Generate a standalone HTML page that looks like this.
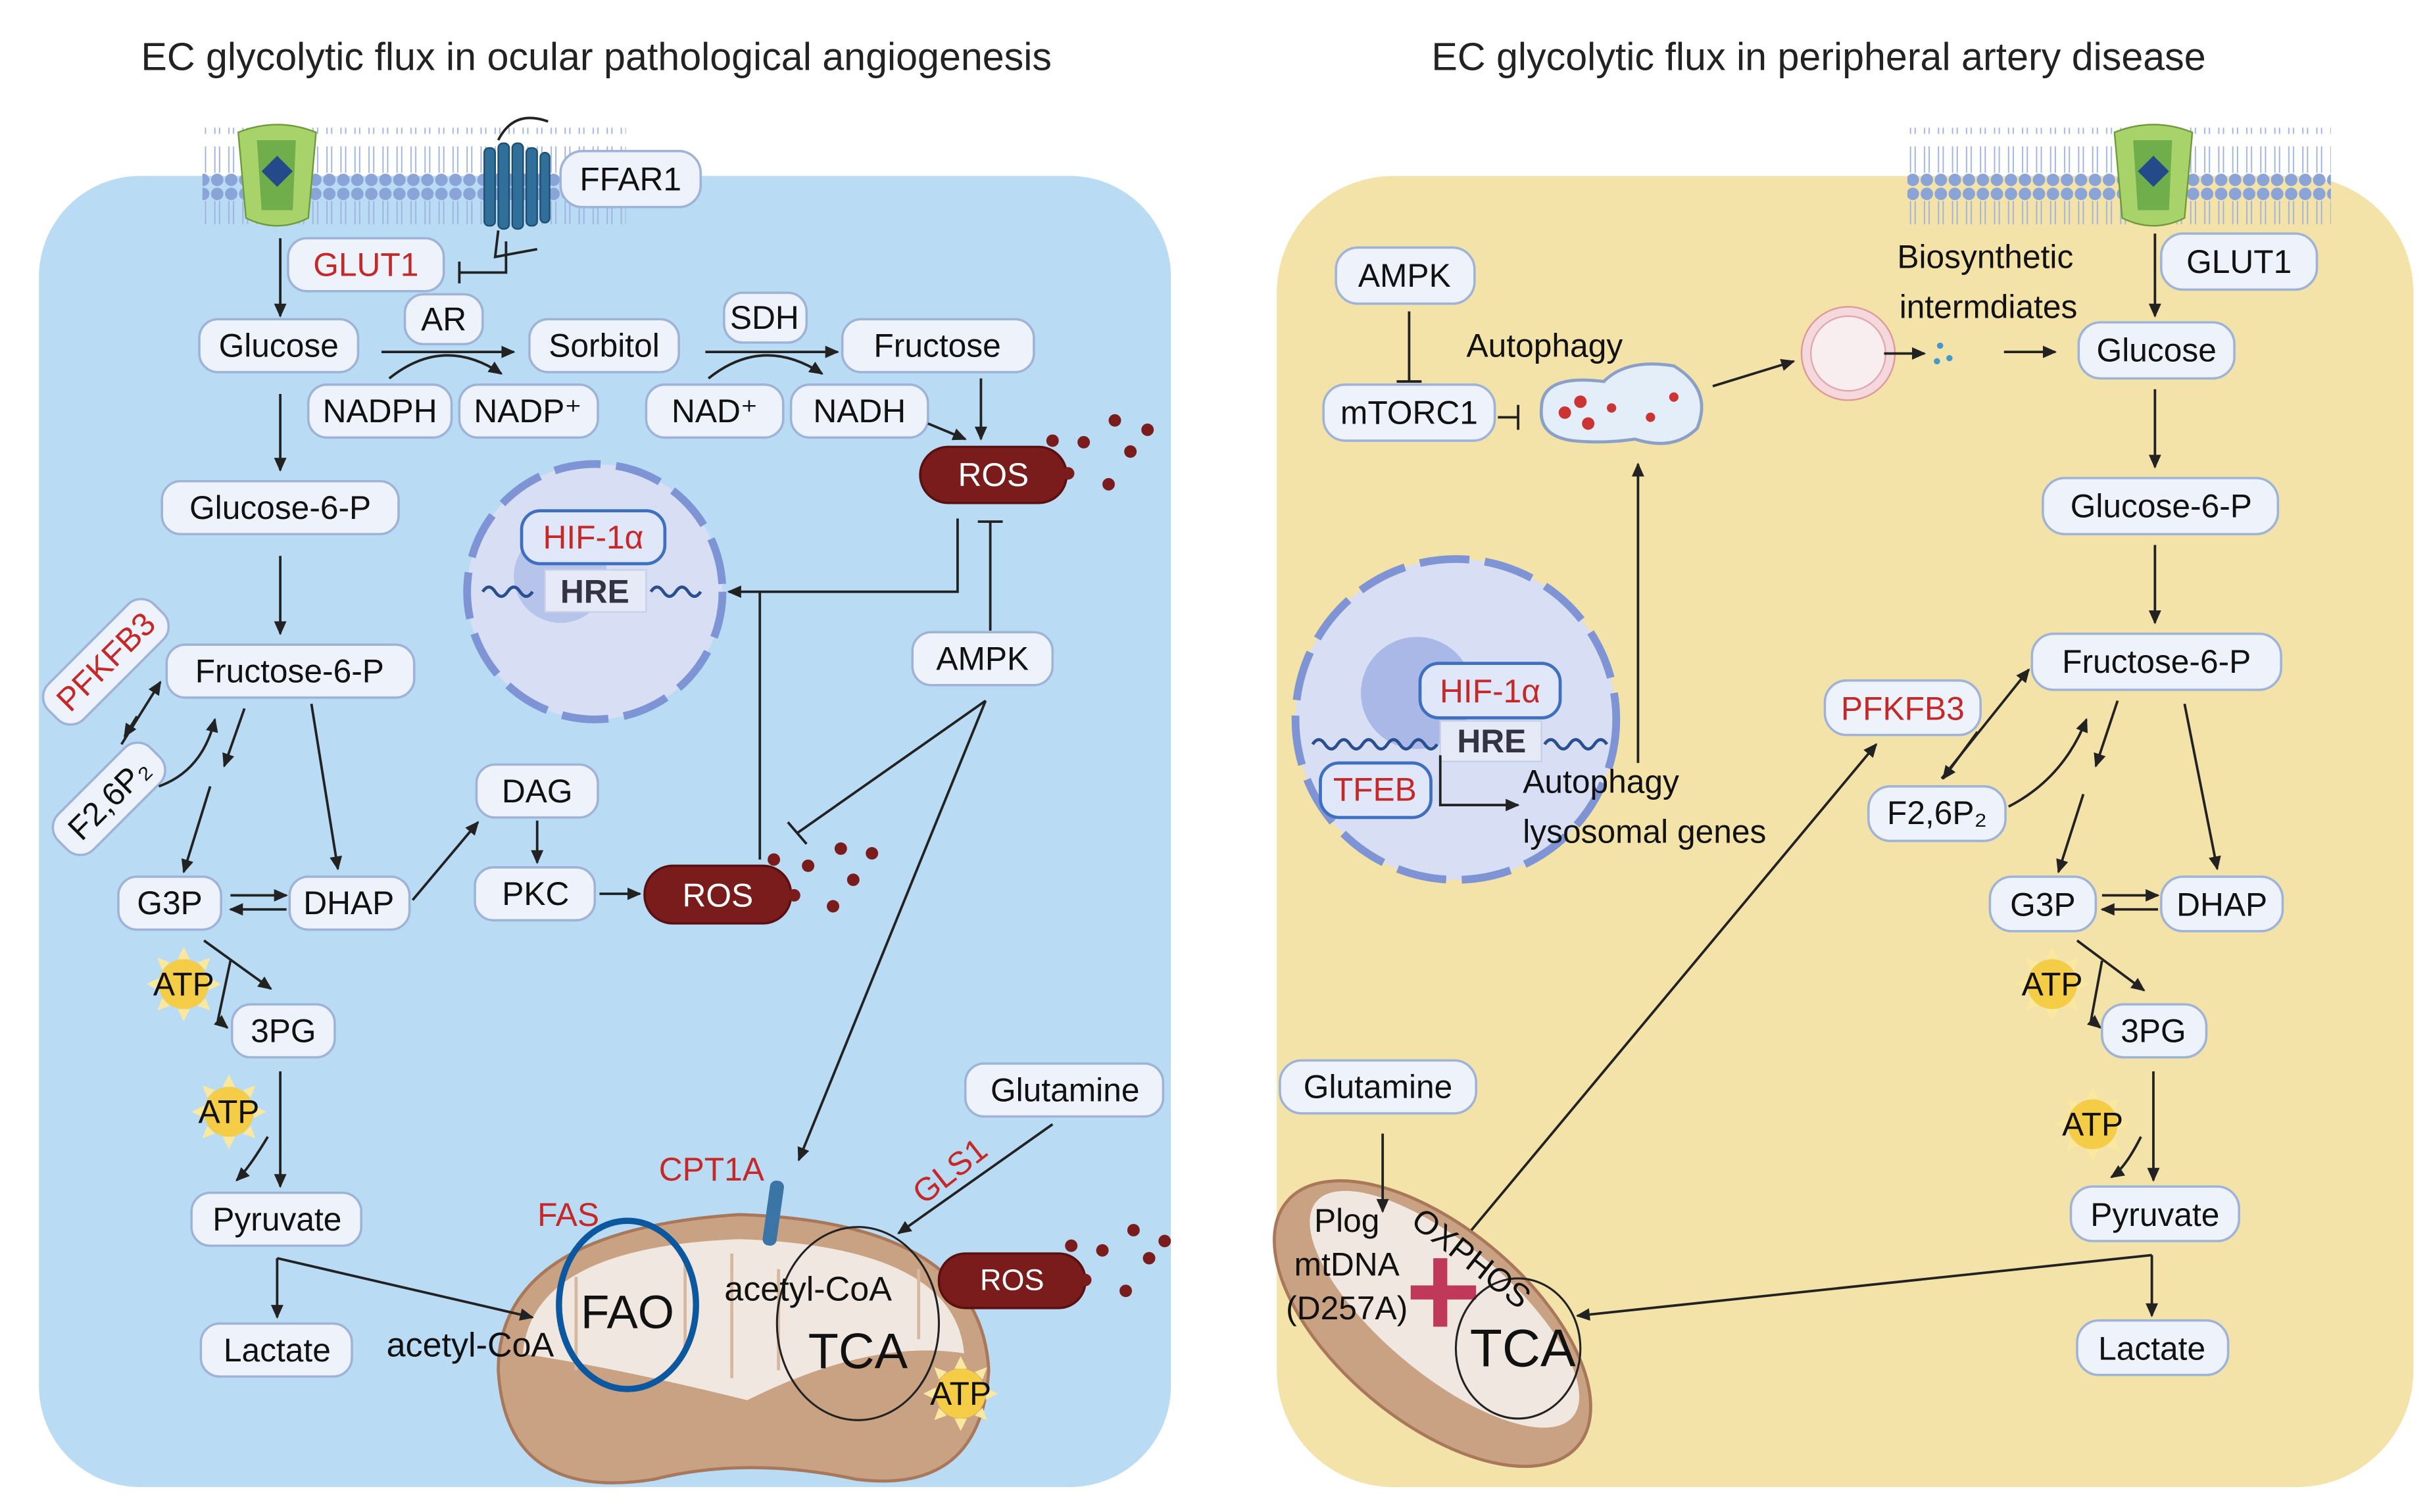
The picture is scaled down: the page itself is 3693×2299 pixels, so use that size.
<!DOCTYPE html>
<html><head><meta charset="utf-8"><style>
html,body{margin:0;padding:0;background:#fff}
svg{display:block}
text{font-family:"Liberation Sans",sans-serif}
.p{fill:#eef3fb;stroke:#9fb3d9;stroke-width:1.5}
.t{font-size:21px;fill:#111;text-anchor:middle;dominant-baseline:central}
.r{fill:#c62828}
.ros{fill:#7a1c1c;stroke:#5a1010;stroke-width:1.5}
.a{stroke:#222;stroke-width:1.6;fill:none;marker-end:url(#ah)}
.l{stroke:#222;stroke-width:1.6;fill:none}
</style></head><body>
<svg width="3693" height="2299" viewBox="0 0 1560 971" preserveAspectRatio="none" xmlns="http://www.w3.org/2000/svg">
<defs>
<marker id="ah" markerWidth="10" markerHeight="10" refX="8" refY="5" orient="auto" markerUnits="userSpaceOnUse"><path d="M0,1 L9,5 L0,9 Z" fill="#222"/></marker>
<pattern id="mem" width="9" height="60" patternUnits="userSpaceOnUse">
<circle cx="4.5" cy="4.5" r="4" fill="#8aa4d8"/><circle cx="4.5" cy="55.5" r="4" fill="#8aa4d8"/>
<path d="M3,9 V26 M6,9 V26 M3,34 V51 M6,34 V51" stroke="#9fb2e0" stroke-width="0.8"/>
</pattern>
<g id="sun"><circle r="16" fill="#f5cc45"/><path d="M0,-24 L4,-16 L-4,-16Z M0,24 L4,16 L-4,16Z M-24,0 L-16,4 L-16,-4Z M24,0 L16,4 L16,-4Z M-17,-17 L-9,-14 L-14,-9Z M17,17 L9,14 L14,9Z M17,-17 L14,-9 L9,-14Z M-17,17 L-14,9 L-9,14Z" fill="#fae7a0"/></g>
</defs>
<rect width="1560" height="971" fill="#fff"/>
<text x="383" y="45" style="font-size:25px;text-anchor:middle;fill:#222">EC glycolytic flux in ocular pathological angiogenesis</text>
<text x="1168" y="45" style="font-size:25px;text-anchor:middle;fill:#222">EC glycolytic flux in peripheral artery disease</text>
<rect x="25" y="113" width="727" height="842" rx="65" fill="#b9dbf3"/>
<rect x="820" y="113" width="730" height="842" rx="75" fill="#f3e3a8"/>
<rect x="130" y="82" width="272" height="62" fill="url(#mem)"/>
<rect x="1225" y="82" width="272" height="62" fill="url(#mem)"/>
<g><path d="M153,85 Q178,75 203,85 L198,140 Q178,150 158,140Z" fill="#a8d26a" stroke="#6f9a3a"/><path d="M165,90 L190,90 L188,135 L168,135Z" fill="#6fae4a"/><path d="M178,100 L188,110 L178,120 L168,110Z" fill="#254a8a"/></g>
<g><path d="M1358,85 Q1383,75 1408,85 L1403,140 Q1383,150 1363,140Z" fill="#a8d26a" stroke="#6f9a3a"/><path d="M1370,90 L1395,90 L1393,135 L1373,135Z" fill="#6fae4a"/><path d="M1383,100 L1393,110 L1383,120 L1373,110Z" fill="#254a8a"/></g>
<g fill="#2f6f9a" stroke="#1f4f70"><rect x="311" y="95" width="7" height="50" rx="3"/><rect x="320" y="92" width="7" height="55" rx="3"/><rect x="329" y="92" width="7" height="55" rx="3"/><rect x="338" y="95" width="7" height="50" rx="3"/><rect x="347" y="98" width="6" height="45" rx="3"/></g>
<path d="M320,90 Q330,70 352,78" class="l"/>
<path d="M320,148 L318,165 L345,160 M295,175 L325,175 L325,155" class="l"/><path d="M295,168 V182" class="l"/>

<rect class="p" x="360" y="97" width="90" height="36" rx="14"/><text class="t" x="405" y="115">FFAR1</text>
<rect class="p" x="185" y="153" width="100" height="34" rx="12"/><text class="t r" x="235" y="170">GLUT1</text>
<rect class="p" x="128" y="205" width="102" height="34" rx="12"/><text class="t" x="179" y="222">Glucose</text>
<rect class="p" x="260" y="189" width="50" height="32" rx="12"/><text class="t" x="285" y="205">AR</text>
<rect class="p" x="340" y="205" width="96" height="34" rx="12"/><text class="t" x="388" y="222">Sorbitol</text>
<rect class="p" x="465" y="188" width="53" height="32" rx="12"/><text class="t" x="491" y="204">SDH</text>
<rect class="p" x="541" y="205" width="123" height="34" rx="12"/><text class="t" x="602" y="222">Fructose</text>
<rect class="p" x="198" y="247" width="92" height="34" rx="12"/><text class="t" x="244" y="264">NADPH</text>
<rect class="p" x="295" y="247" width="89" height="34" rx="12"/><text class="t" x="339" y="264">NADP⁺</text>
<rect class="p" x="415" y="247" width="88" height="34" rx="12"/><text class="t" x="459" y="264">NAD⁺</text>
<rect class="p" x="508" y="247" width="88" height="34" rx="12"/><text class="t" x="552" y="264">NADH</text>
<path class="a" d="M245,226 H330"/><path class="a" d="M250,243 Q285,215 322,240"/>
<path class="a" d="M453,226 H538"/><path class="a" d="M455,243 Q490,215 528,240"/>
<path class="a" d="M180,153 V203"/><path class="a" d="M180,253 V302"/>
<path class="a" d="M596,272 L620,282"/><path class="a" d="M630,243 V282"/>
<rect class="ros" x="591" y="287" width="94" height="36" rx="18"/><text class="t" x="638" y="305" style="fill:#fff">ROS</text>
<g fill="#7a1c1c"><circle cx="676" cy="283" r="4"/><circle cx="696" cy="284" r="4"/><circle cx="716" cy="270" r="4"/><circle cx="737" cy="276" r="4"/><circle cx="726" cy="290" r="4"/><circle cx="712" cy="311" r="4"/><circle cx="686" cy="304" r="4"/></g>
<circle cx="382" cy="380" r="82" fill="#d8dff4" stroke="#7f94d4" stroke-width="5" stroke-dasharray="30 10"/>
<circle cx="360" cy="370" r="30" fill="#b6c3ea"/>
<rect x="335" y="328" width="92" height="34" rx="12" fill="#dfe7f8" stroke="#3f6fc0" stroke-width="2"/><text class="t r" x="381" y="345">HIF-1α</text>
<rect x="350" y="366" width="65" height="27" fill="#e6eaf6" stroke="#c8d0e8"/><text class="t" x="382" y="380" style="font-weight:bold;fill:#334">HRE</text>
<path d="M310,380 q4,-6 8,0 t8,0 t8,0 t8,0 M418,380 q4,-6 8,0 t8,0 t8,0 t8,0" stroke="#2a4f90" stroke-width="2" fill="none"/>
<path class="a" d="M615,333 V380 H468"/><path class="l" d="M636,405 V335 M628,335 H644"/>
<path class="l" d="M488,552 V380"/>
<rect class="p" x="586" y="406" width="90" height="34" rx="12"/><text class="t" x="631" y="423">AMPK</text>
<rect class="p" x="104" y="309" width="152" height="34" rx="12"/><text class="t" x="180" y="326">Glucose-6-P</text>
<path class="a" d="M180,357 V407"/>
<rect class="p" x="107" y="414" width="159" height="34" rx="12"/><text class="t" x="186" y="431">Fructose-6-P</text>
<g transform="translate(68,425) rotate(-45)"><rect class="p" x="-48" y="-16" width="96" height="32" rx="12"/><text class="t r" x="0" y="0">PFKFB3</text></g>
<g transform="translate(70,513) rotate(-45)"><rect class="p" x="-42" y="-16" width="84" height="32" rx="12"/><text class="t" x="0" y="0">F2,6P₂</text></g>
<path class="a" d="M78,478 L103,438"/><path class="a" d="M88,460 L80,473"/>
<path class="a" d="M102,505 Q130,495 138,462"/>
<path class="a" d="M157,455 L144,492"/><path class="a" d="M135,505 L118,560"/><path class="a" d="M200,452 L217,558"/>
<rect class="p" x="306" y="491" width="78" height="34" rx="12"/><text class="t" x="345" y="508">DAG</text>
<rect class="p" x="305" y="557" width="77" height="34" rx="12"/><text class="t" x="344" y="574">PKC</text>
<path class="a" d="M345,527 V554"/><path class="a" d="M385,574 H411"/><path class="a" d="M265,578 L307,528"/>
<rect class="ros" x="414" y="556" width="94" height="37" rx="18"/><text class="t" x="461" y="575" style="fill:#fff">ROS</text>
<g fill="#7a1c1c"><circle cx="497" cy="552" r="4"/><circle cx="519" cy="556" r="4"/><circle cx="540" cy="545" r="4"/><circle cx="560" cy="548" r="4"/><circle cx="548" cy="565" r="4"/><circle cx="535" cy="582" r="4"/><circle cx="510" cy="575" r="4"/></g>
<path class="l" d="M633,450 L512,535 M506,528 L518,542"/>
<path class="a" d="M633,450 L513,745"/>
<rect class="p" x="76" y="563" width="66" height="34" rx="12"/><text class="t" x="109" y="580">G3P</text>
<rect class="p" x="186" y="563" width="77" height="34" rx="12"/><text class="t" x="224" y="580">DHAP</text>
<path class="a" d="M148,575 H184"/><path class="a" d="M184,584 H148"/>
<path class="a" d="M131,604 L174,635"/><path class="a" d="M148,617 L140,655 L146,660"/>
<use href="#sun" x="118" y="632"/><text class="t" x="118" y="632">ATP</text>
<rect class="p" x="149" y="645" width="66" height="34" rx="12"/><text class="t" x="182" y="662">3PG</text>
<use href="#sun" x="147" y="714"/><text class="t" x="147" y="714">ATP</text>
<path class="a" d="M180,688 V762"/><path class="a" d="M172,730 Q160,750 152,758"/>
<rect class="p" x="123" y="766" width="109" height="34" rx="12"/><text class="t" x="178" y="783">Pyruvate</text>
<path class="a" d="M178,808 V846"/>
<rect class="p" x="129" y="850" width="97" height="34" rx="12"/><text class="t" x="178" y="867">Lactate</text>
<rect class="p" x="620" y="683" width="127" height="34" rx="12"/><text class="t" x="684" y="700">Glutamine</text>
<path class="a" d="M676,722 L577,792"/>
<text x="610" y="752" transform="rotate(-38 610 752)" class="t r">GLS1</text>
<text x="457" y="751" class="t r">CPT1A</text>
<text x="365" y="780" class="t r">FAS</text>
<path d="M320,880 Q320,790 475,780 Q630,785 635,880 Q630,960 550,950 Q480,935 420,950 Q325,965 320,880Z" fill="#c9a283" stroke="#a9785a" stroke-width="2"/>
<path d="M335,870 Q340,800 475,795 Q615,800 620,870 Q560,860 480,900 Q400,880 335,870Z" fill="#efe7e0" stroke="#c9a283" stroke-width="1.5"/>
<g stroke="#d6b79f" stroke-width="2" fill="none"><path d="M370,880 V820 M440,870 V810 M470,885 V805 M500,880 V815 M590,860 V815"/></g>
<rect x="492" y="758" width="9" height="42" rx="4" fill="#3a75a6" transform="rotate(8 496 780)"/>
<path class="a" d="M178,808 L342,846"/>
<ellipse cx="403" cy="838" rx="44" ry="54" fill="none" stroke="#0b58a0" stroke-width="4"/>
<ellipse cx="551" cy="850" rx="52" ry="62" fill="none" stroke="#222" stroke-width="1.3"/>
<text x="403" y="843" class="t" style="font-size:30px">FAO</text>
<text x="519" y="828" class="t" style="font-size:22px">acetyl-CoA</text>
<text x="551" y="868" class="t" style="font-size:32px">TCA</text>
<text x="302" y="864" class="t" style="font-size:22px">acetyl-CoA</text>
<use href="#sun" x="617" y="895"/><text class="t" x="617" y="895">ATP</text>
<rect class="ros" x="603" y="805" width="94" height="35" rx="17"/><text class="t" x="650" y="822" style="fill:#fff;font-size:19px">ROS</text>
<g fill="#7a1c1c"><circle cx="688" cy="800" r="4"/><circle cx="708" cy="803" r="4"/><circle cx="728" cy="790" r="4"/><circle cx="748" cy="797" r="4"/><circle cx="738" cy="808" r="4"/><circle cx="723" cy="829" r="4"/><circle cx="697" cy="822" r="4"/></g>

<rect class="p" x="858" y="159" width="89" height="36" rx="14"/><text class="t" x="902" y="177">AMPK</text>
<path class="l" d="M905,200 V245 M897,245 H913"/>
<rect class="p" x="850" y="247" width="110" height="36" rx="14"/><text class="t" x="905" y="265">mTORC1</text>
<path class="l" d="M962,268 H975 M975,260 V276"/>
<text x="992" y="222" class="t">Autophagy</text>
<path d="M990,262 Q990,240 1030,245 Q1045,230 1075,235 Q1100,250 1090,275 Q1075,290 1050,282 Q1030,285 1010,283 Q988,280 990,262Z" fill="#e4eef8" stroke="#8aa0c8" stroke-width="2"/>
<g fill="#c33"><circle cx="1005" cy="265" r="4"/><circle cx="1020" cy="272" r="4"/><circle cx="1015" cy="258" r="4"/><circle cx="1035" cy="262" r="3"/><circle cx="1060" cy="268" r="3"/><circle cx="1075" cy="255" r="3"/></g>
<path class="a" d="M1100,248 L1152,232"/>
<circle cx="1187" cy="227" r="30" fill="#f4d8dc" stroke="#d99"/><circle cx="1187" cy="227" r="24" fill="#f8eef0" stroke="#e0a8b0"/>
<path class="a" d="M1210,227 H1236"/><circle cx="1246" cy="222" r="2" fill="#49c"/><circle cx="1252" cy="230" r="2" fill="#49c"/><circle cx="1244" cy="232" r="2" fill="#49c"/>
<path class="a" d="M1287,226 H1320"/>
<text x="1275" y="165" class="t">Biosynthetic</text><text x="1277" y="197" class="t">intermdiates</text>
<rect class="p" x="1388" y="150" width="100" height="36" rx="14"/><text class="t" x="1438" y="168">GLUT1</text>
<path class="a" d="M1384,150 V203"/>
<rect class="p" x="1335" y="207" width="100" height="36" rx="14"/><text class="t" x="1385" y="225">Glucose</text>
<path class="a" d="M1384,250 V300"/>
<rect class="p" x="1312" y="307" width="151" height="36" rx="14"/><text class="t" x="1388" y="325">Glucose-6-P</text>
<path class="a" d="M1384,350 V400"/>
<rect class="p" x="1305" y="407" width="160" height="36" rx="14"/><text class="t" x="1385" y="425">Fructose-6-P</text>
<rect class="p" x="1172" y="437" width="100" height="35" rx="14"/><text class="t r" x="1222" y="455">PFKFB3</text>
<rect class="p" x="1200" y="505" width="88" height="35" rx="14"/><text class="t" x="1244" y="522">F2,6P₂</text>
<path class="a" d="M1247,500 L1303,430"/><path class="a" d="M1270,470 L1248,500"/>
<path class="a" d="M1290,518 Q1325,500 1340,462"/>
<path class="a" d="M1360,450 L1346,492"/><path class="a" d="M1338,510 L1322,560"/><path class="a" d="M1403,452 L1424,558"/>
<circle cx="935" cy="462" r="103" fill="#d8dff4" stroke="#7f94d4" stroke-width="5" stroke-dasharray="32 10"/>
<circle cx="910" cy="445" r="36" fill="#a9b8e6"/>
<rect x="912" y="426" width="90" height="35" rx="12" fill="#dfe7f8" stroke="#3f6fc0" stroke-width="2"/><text class="t r" x="957" y="444">HIF-1α</text>
<rect x="925" y="463" width="65" height="26" fill="#e6eaf6" stroke="#c8d0e8"/><text class="t" x="958" y="476" style="font-weight:bold;fill:#334">HRE</text>
<path d="M843,478 q4,-6 8,0 t8,0 t8,0 t8,0 t8,0 t8,0 t8,0 t8,0 t8,0 t8,0 M992,478 q4,-6 8,0 t8,0 t8,0 t8,0 t8,0" stroke="#2a4f90" stroke-width="2" fill="none"/>
<rect x="848" y="490" width="71" height="35" rx="12" fill="#dfe7f8" stroke="#3f6fc0" stroke-width="2"/><text class="t r" x="883" y="507">TFEB</text>
<path class="a" d="M925,485 V517 H975"/>
<text x="978" y="502" style="font-size:21px;fill:#111;dominant-baseline:central">Autophagy</text>
<text x="978" y="534" style="font-size:21px;fill:#111;dominant-baseline:central">lysosomal genes</text>
<path class="a" d="M1052,490 V298"/>
<rect class="p" x="1278" y="563" width="68" height="35" rx="14"/><text class="t" x="1312" y="581">G3P</text>
<rect class="p" x="1388" y="563" width="78" height="35" rx="14"/><text class="t" x="1427" y="581">DHAP</text>
<path class="a" d="M1350,575 H1386"/><path class="a" d="M1386,584 H1350"/>
<path class="a" d="M1334,604 L1377,636"/><path class="a" d="M1350,617 L1343,655 L1349,660"/>
<use href="#sun" x="1318" y="632"/><text class="t" x="1318" y="632">ATP</text>
<rect class="p" x="1350" y="645" width="67" height="34" rx="14"/><text class="t" x="1383" y="662">3PG</text>
<use href="#sun" x="1344" y="722"/><text class="t" x="1344" y="722">ATP</text>
<path class="a" d="M1383,688 V758"/><path class="a" d="M1375,730 Q1365,750 1356,756"/>
<rect class="p" x="1330" y="762" width="108" height="35" rx="14"/><text class="t" x="1384" y="780">Pyruvate</text>
<rect class="p" x="1334" y="848" width="97" height="35" rx="14"/><text class="t" x="1382" y="866">Lactate</text>
<path class="a" d="M1382,806 V845"/><path class="a" d="M1382,806 L1013,845"/>
<rect class="p" x="822" y="681" width="126" height="34" rx="14"/><text class="t" x="885" y="698">Glutamine</text>
<g transform="rotate(40 920 850)"><ellipse cx="920" cy="850" rx="122" ry="62" fill="#c9a283" stroke="#a9785a" stroke-width="2"/><ellipse cx="920" cy="838" rx="108" ry="42" fill="#efe7e0" stroke="#c9a283"/></g>
<path class="a" d="M888,728 V778"/>
<path d="M925,808 V852 M906,830 H948" stroke="#c0395a" stroke-width="9"/>
<ellipse cx="975" cy="866" rx="40" ry="45" fill="none" stroke="#222" stroke-width="1.3"/>
<text x="865" y="784" class="t">Plog</text><text x="865" y="812" class="t">mtDNA</text><text x="865" y="840" class="t">(D257A)</text>
<text x="945" y="808" class="t" transform="rotate(38 945 808)">OXPHOS</text>
<text x="978" y="866" class="t" style="font-size:34px">TCA</text>
<path class="a" d="M945,790 L1205,478"/>
</svg>
</body></html>
